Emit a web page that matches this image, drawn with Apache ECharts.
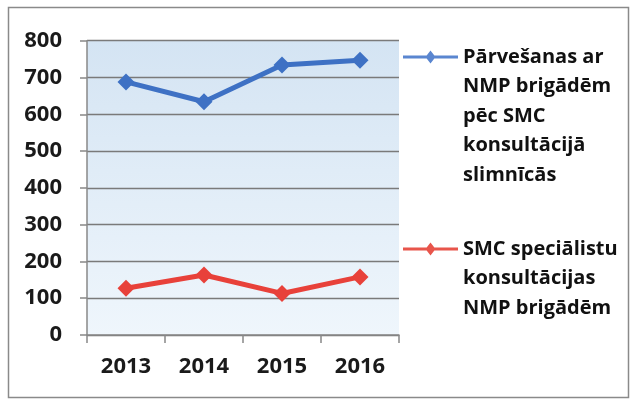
<!DOCTYPE html>
<html>
<head>
<meta charset="utf-8">
<script src="https://cdn.jsdelivr.net/npm/echarts@6/dist/echarts.min.js"></script>
<style>html,body{margin:0;padding:0;background:#fff}#c{width:631px;height:401px}</style>
</head>
<body>
<div id="c"></div>
<script>
const categories = ['2013', '2014', '2015', '2016'];
const transfers = [688, 634, 734, 747];
const consultations = [127, 163, 113, 158];
const yTicks = { min: 0, max: 800, interval: 100 };
const nameTransfers = 'Pārvešanas ar\nNMP brigādēm\npēc SMC\nkonsultācijā\nslimnīcās';
const nameConsult = 'SMC speciālistu\nkonsultācijas\nNMP brigādēm';

const FONT = '"Open Sans", sans-serif';
const LH = 29.5;
const chart = echarts.init(document.getElementById('c'), null, { renderer: 'canvas' });

// legend icon: line with a diamond on the first text line, box as tall as the text block
function iconPath(lines) {
  const W = 55, H = lines * LH, c = LH / 2;
  return 'path://M0 0L0.05 0L0.05 0.05Z' +
    'M0 ' + (c - 1.6) + 'L' + W + ' ' + (c - 1.6) + 'L' + W + ' ' + (c + 1.6) + 'L0 ' + (c + 1.6) + 'Z' +
    'M' + (W / 2) + ' ' + (c - 6.5) + 'L' + (W / 2 + 5) + ' ' + c + 'L' + (W / 2) + ' ' + (c + 6.5) + 'L' + (W / 2 - 5) + ' ' + c + 'Z' +
    'M0 ' + H + 'L0.05 ' + H + 'L0.05 ' + (H - 0.05) + 'Z';
}

function legendCfg(name, lines, top, color) {
  return {
    data: [{ name: name, icon: iconPath(lines), itemStyle: { color: color, borderWidth: 0 } }],
    orient: 'vertical',
    left: 403,
    top: top,
    padding: 0,
    itemWidth: 55,
    itemHeight: lines * LH,
    itemGap: 0,
    selectedMode: false,
    textStyle: {
      fontFamily: FONT, fontWeight: 'bold', fontSize: 20, color: '#111',
      lineHeight: LH
    }
  };
}

chart.setOption({
  animation: false,
  backgroundColor: '#fff',
  graphic: [{
    type: 'rect', shape: { x: 8.5, y: 7.5, width: 620, height: 390 },
    style: { fill: 'none', stroke: '#8a8a8a', lineWidth: 1.5 }, silent: true, z: -1
  }],
  grid: {
    left: 87, top: 40.7, right: 232, bottom: 66,
    show: true, borderWidth: 0,
    backgroundColor: new echarts.graphic.LinearGradient(0, 0, 0, 1, [
      { offset: 0, color: '#d4e4f3' },
      { offset: 1, color: '#eff6fc' }
    ])
  },
  legend: [
    legendCfg(nameTransfers, 5, 57 - LH / 2, '#5a86d0'),
    legendCfg(nameConsult, 3, 249 - LH / 2, '#e8554b')
  ],
  xAxis: {
    type: 'category', data: categories, boundaryGap: true,
    axisLine: { lineStyle: { color: '#888', width: 1.5 } },
    axisTick: { show: true, length: 8, lineStyle: { color: '#888', width: 1.5 } },
    axisLabel: { fontFamily: FONT, fontWeight: 'bold', fontSize: 22, color: '#1a1a1a', margin: 21 },
    splitLine: { show: false }
  },
  yAxis: {
    type: 'value', min: yTicks.min, max: yTicks.max, interval: yTicks.interval,
    axisLine: { show: true, lineStyle: { color: '#888', width: 1.5 } },
    axisTick: { show: true, length: 7, lineStyle: { color: '#888', width: 1.5 } },
    axisLabel: { fontFamily: FONT, fontWeight: 'bold', fontSize: 22, color: '#1a1a1a', margin: 25 },
    splitLine: { show: true, lineStyle: { color: '#7a7a7a', width: 1.3 } }
  },
  series: [
    {
      name: nameTransfers, type: 'line', data: transfers,
      symbol: 'diamond', symbolSize: 17,
      lineStyle: { color: '#3e71c4', width: 5 },
      itemStyle: { color: '#3e71c4' }
    },
    {
      name: nameConsult, type: 'line', data: consultations,
      symbol: 'diamond', symbolSize: 17,
      lineStyle: { color: '#e8413a', width: 5 },
      itemStyle: { color: '#e8413a' }
    }
  ]
});
</script>
</body>
</html>
